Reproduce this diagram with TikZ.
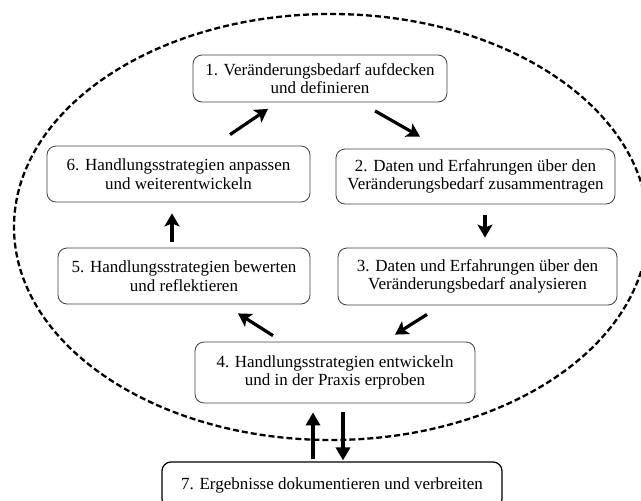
\documentclass[tikz,border=0pt]{standalone}
\usepackage{fontspec}
\setmainfont{Liberation Serif}
\usetikzlibrary{calc,arrows.meta}

\begin{document}
\begin{tikzpicture}[%
    x=1pt, y=-1pt,
    >={Stealth[length=13pt,width=15pt,inset=3pt]},
    stage/.style={draw=black!75, line width=0.8pt, rounded corners=9pt, fill=white,
      align=center, inner sep=0pt, font=\fontsize{17}{18.5}\selectfont},
    cyc/.style={->, line width=3.2pt},
    link/.style={-{Triangle[length=13pt,width=14pt]}, line width=4pt}
  ]
    \useasboundingbox (0,0) rectangle (641,501);

    \draw[line width=2.3pt, dash pattern=on 6pt off 3pt]
      (331,227) ellipse [x radius=317, y radius=213];

    \node[stage, minimum width=254pt, minimum height=47pt] (phase1) at (320,78.5)
      {1. Veränderungsbedarf aufdecken\\ und definieren};
    \node[stage, minimum width=279pt, minimum height=55pt] (phase2) at (475.5,176.5)
      {2. Daten und Erfahrungen über den\\ Veränderungsbedarf zusammentragen};
    \node[stage, minimum width=279pt, minimum height=57pt] (phase3) at (477.5,276.5)
      {3. Daten und Erfahrungen über den\\ Veränderungsbedarf analysieren};
    \node[stage, minimum width=280pt, minimum height=61pt] (phase4) at (335,372.5)
      {4. Handlungsstrategien entwickeln\\ und in der Praxis erproben};
    \node[stage, minimum width=252pt, minimum height=56pt] (phase5) at (184,276)
      {5. Handlungsstrategien bewerten\\ und reflektieren};
    \node[stage, minimum width=263pt, minimum height=56pt] (phase6) at (178.5,174)
      {6. Handlungsstrategien anpassen\\ und weiterentwickeln};
    \node[stage, draw=black, line width=1.2pt, minimum width=340pt, minimum height=46pt] (phase7) at (332,485)
      {7. Ergebnisse dokumentieren und verbreiten};

    % cycle
    \path ($(phase6.north)+(51.5,-11)$) edge[cyc] ($(phase1.south)+(-52,6.5)$)
          ($(phase1.south)+(55,8.5)$)    edge[cyc] ($(phase2.north)+(-55.5,-12)$)
          ($(phase2.south)+(9.5,11)$)    edge[cyc] ($(phase3.north)+(7.5,-10)$)
          ($(phase3.south)+(-50.5,9)$)   edge[cyc] ($(phase4.north)+(60,-7)$)
          ($(phase4.north)+(-62,-6)$)    edge[cyc] ($(phase5.south)+(54,9)$)
          ($(phase5.north)+(-12,-6)$)    edge[cyc] ($(phase6.south)+(-6.5,11)$);

    % results
    \path ($(phase7.north)+(-19,-2)$) edge[link] ($(phase4.south)+(-22,9)$)
          ($(phase4.south)+(8,9)$)    edge[link] ($(phase7.north)+(11,-1)$);
\end{tikzpicture}
\end{document}
